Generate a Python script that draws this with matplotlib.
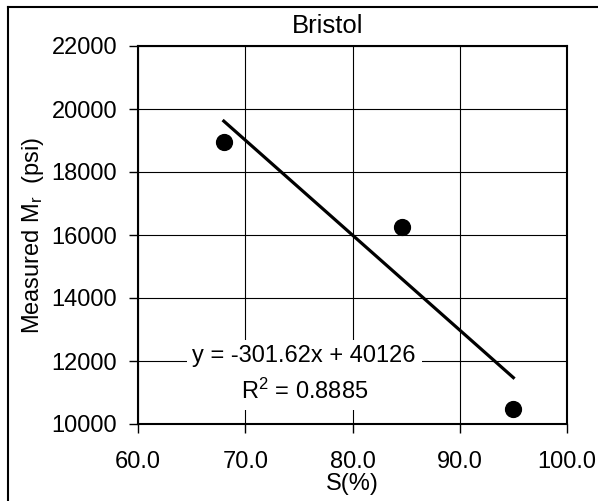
import numpy as np
import matplotlib.pyplot as plt
from matplotlib.lines import Line2D

plt.rcParams["font.family"] = ["Liberation Sans", "DejaVu Sans"]
plt.rcParams["mathtext.fontset"] = "custom"
plt.rcParams["mathtext.rm"] = "Liberation Sans"
plt.rcParams["mathtext.it"] = "Liberation Sans"

# saturation (%) vs measured resilient modulus (psi)
saturation = [68.0, 84.6, 95.0]
modulus = [18950, 16250, 10480]

# linear trendline as reported
slope = -301.62
intercept = 40126
r_squared = 0.8885

x_ticks = [60.0, 70.0, 80.0, 90.0, 100.0]
y_ticks = [10000, 12000, 14000, 16000, 18000, 20000, 22000]

fig = plt.figure(figsize=(5.98, 5.01), dpi=100)
ax = fig.add_axes([138 / 598, 77 / 501, 429 / 598, 378 / 501])

ax.scatter(saturation, modulus, s=130, color="black", zorder=3)

x_fit = np.array([min(saturation), max(saturation)])
ax.plot(x_fit, slope * x_fit + intercept, color="black", lw=2.3, zorder=4)

ax.set_xlim(60, 100)
ax.set_ylim(10000, 22000)
ax.set_xticks(x_ticks)
ax.set_xticklabels([f"{t:.1f}" for t in x_ticks])
ax.set_yticks(y_ticks)
ax.grid(True, color="black", lw=0.8)
ax.set_axisbelow(True)
ax.tick_params(direction="out", length=6.5, width=1, labelsize=17)
ax.tick_params(axis="x", pad=13)
ax.tick_params(axis="y", pad=8.5)
for side in ax.spines.values():
    side.set_linewidth(1.5)

ax.set_xlabel("S(%)", fontsize=17, labelpad=0)
ax.set_ylabel("Measured M$_\\mathrm{r}$  (psi)", fontsize=17, labelpad=4)

ax.text(75.5, 12150, f"y = {slope}x + {intercept}", fontsize=17,
        ha="center", va="center", zorder=5,
        bbox=dict(facecolor="white", edgecolor="none", pad=4))
ax.text(75.5, 11050, f"R$^2$ = {r_squared}", fontsize=17,
        ha="center", va="center", zorder=5,
        bbox=dict(facecolor="white", edgecolor="none", pad=5))

fig.text(328 / 598, 1 - 26 / 501, "Bristol", fontsize=18.5,
         ha="center", va="center")

# outer chart frame
fig.add_artist(Line2D([8 / 598, 8 / 598], [0, 1 - 7 / 501],
                      transform=fig.transFigure, color="black", lw=1.5))
fig.add_artist(Line2D([8 / 598, 1], [1 - 7 / 501, 1 - 7 / 501],
                      transform=fig.transFigure, color="black", lw=1.5))

fig.savefig("out.png", dpi=100)
